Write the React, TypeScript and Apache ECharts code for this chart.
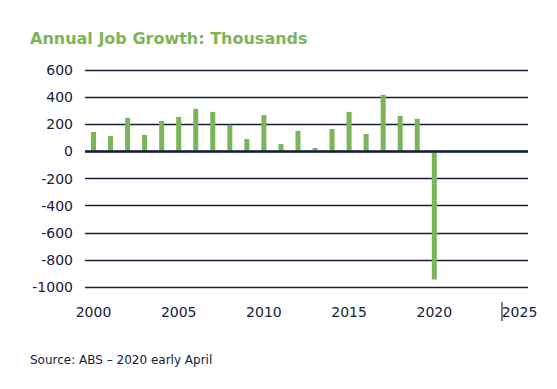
import React, { useEffect, useRef } from "react";
import * as echarts from "echarts";

const years: string[] = [
  "2000","2001","2002","2003","2004","2005","2006","2007","2008","2009",
  "2010","2011","2012","2013","2014","2015","2016","2017","2018","2019",
  "2020","2021","2022","2023","2024","2025",
];
const jobGrowth: (number | null)[] = [
  143, 114, 247, 121, 225, 254, 314, 291, 195, 91,
  269, 54, 151, 25, 165, 291, 128, 417, 262, 240,
  -944, null, null, null, null, null,
];
const yTicks = { min: -1000, max: 600, interval: 200 };
const titleText = "Annual Job Growth: Thousands";
const sourceText = "Source: ABS \u2013 2020 early April";

const NAVY = "#13203b";
const GREEN = "#7db45a";
const FONT = "DejaVu Sans";

export default function App() {
  const ref = useRef<HTMLDivElement>(null);
  useEffect(() => {
    if (!ref.current) return;
    const chart = echarts.init(ref.current, null, { renderer: "svg" });
    chart.setOption({
      animation: false,
      backgroundColor: "#ffffff",
      title: {
        text: titleText,
        left: 17,
        top: 17,
        textStyle: { color: GREEN, fontFamily: FONT, fontWeight: "bold", fontSize: 16 },
      },
      graphic: [
        {
          type: "text",
          left: 22,
          top: 346,
          style: { text: sourceText, fill: NAVY, font: `12px "${FONT}"` },
        },
        {
          type: "line",
          shape: { x1: 494, y1: 294, x2: 494, y2: 313 },
          style: { stroke: "#000000", lineWidth: 1 },
        },
      ],
      grid: { left: 77, right: 21, top: 62, bottom: 94, containLabel: false },
      xAxis: {
        type: "category",
        data: years,
        boundaryGap: true,
        axisLine: { show: false, onZero: false },
        axisTick: { show: false },
        axisLabel: {
          interval: 4,
          color: NAVY,
          fontFamily: FONT,
          fontSize: 14,
          margin: 18,
        },
        splitLine: { show: false },
      },
      yAxis: {
        type: "value",
        min: yTicks.min,
        max: yTicks.max,
        interval: yTicks.interval,
        axisLine: { show: false },
        axisTick: { show: false },
        axisLabel: {
          color: NAVY,
          fontFamily: FONT,
          fontSize: 14,
          margin: 12,
          formatter: (v: number) => String(v),
        },
        splitLine: { lineStyle: { color: NAVY, width: 1.3 } },
      },
      series: [
        {
          type: "bar",
          data: jobGrowth,
          barWidth: 5,
          itemStyle: { color: GREEN },
          markLine: {
            silent: true,
            symbol: "none",
            label: { show: false },
            lineStyle: { color: NAVY, width: 2.6, type: "solid" },
            data: [{ yAxis: 0 }],
          },
        },
      ],
    });
    return () => chart.dispose();
  }, []);
  return <div ref={ref} style={{ width: 541, height: 373 }} />;
}
